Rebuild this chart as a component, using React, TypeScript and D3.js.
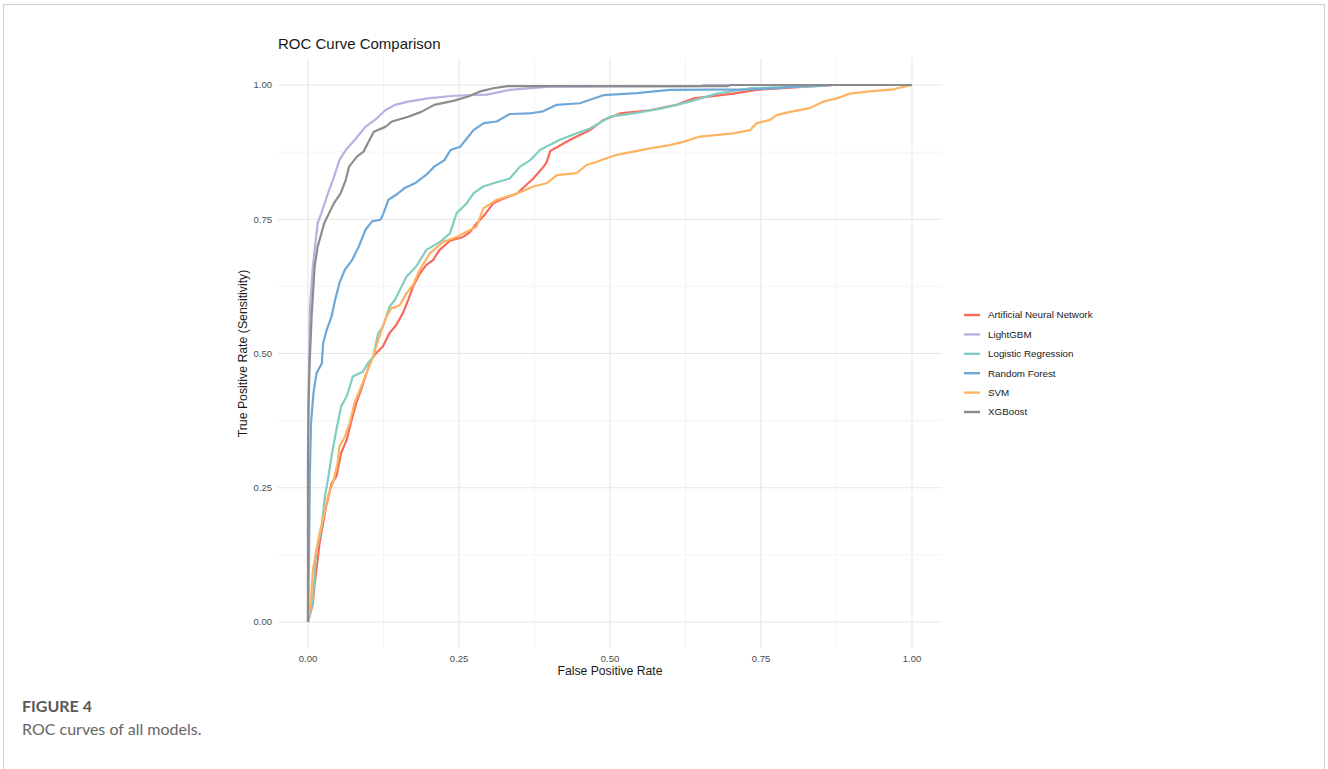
import React from 'react';
import * as d3 from 'd3';

// ROC points: [false positive rate, true positive rate]
const ann: [number, number][] = [
  [0, 0], [0.008, 0.034], [0.011, 0.072], [0.014, 0.097], [0.019, 0.146], [0.025, 0.184], [0.03, 0.215],
  [0.039, 0.258], [0.047, 0.271], [0.055, 0.315], [0.064, 0.339], [0.071, 0.371], [0.08, 0.408], [0.088, 0.433],
  [0.097, 0.464], [0.105, 0.489], [0.113, 0.501], [0.124, 0.513], [0.135, 0.538], [0.146, 0.553], [0.157, 0.575],
  [0.166, 0.6], [0.174, 0.625], [0.185, 0.649], [0.196, 0.665], [0.207, 0.674], [0.218, 0.693], [0.235, 0.71],
  [0.257, 0.717], [0.268, 0.726], [0.279, 0.742], [0.29, 0.755], [0.307, 0.78], [0.318, 0.786], [0.346, 0.798],
  [0.373, 0.826], [0.39, 0.848], [0.395, 0.856], [0.401, 0.877], [0.434, 0.898], [0.467, 0.916], [0.489, 0.935],
  [0.517, 0.947], [0.566, 0.953], [0.61, 0.963], [0.638, 0.975], [0.704, 0.984], [0.743, 0.991], [0.8, 0.995],
  [0.87, 1], [1, 1],
];

const lightgbm: [number, number][] = [
  [0, 0], [0, 0.35], [0.002, 0.5], [0.003, 0.581], [0.008, 0.662], [0.016, 0.743], [0.022, 0.761], [0.033, 0.798],
  [0.043, 0.829], [0.052, 0.86], [0.0625, 0.879], [0.079, 0.9], [0.095, 0.922], [0.114, 0.938], [0.128, 0.953],
  [0.144, 0.963], [0.166, 0.969], [0.198, 0.975], [0.242, 0.98], [0.296, 0.982], [0.334, 0.991], [0.4, 0.997],
  [0.65, 0.998], [0.655, 1], [1, 1],
];

const logistic: [number, number][] = [
  [0, 0], [0.008, 0.04], [0.014, 0.134], [0.022, 0.172], [0.028, 0.234], [0.033, 0.265], [0.039, 0.309],
  [0.047, 0.358], [0.055, 0.402], [0.064, 0.42], [0.071, 0.445], [0.074, 0.457], [0.091, 0.466], [0.099, 0.482],
  [0.108, 0.494], [0.116, 0.537], [0.124, 0.55], [0.135, 0.587], [0.144, 0.6], [0.155, 0.625], [0.163, 0.643],
  [0.179, 0.662], [0.196, 0.693], [0.219, 0.708], [0.235, 0.724], [0.246, 0.761], [0.263, 0.78], [0.274, 0.798],
  [0.29, 0.811], [0.307, 0.817], [0.334, 0.826], [0.351, 0.848], [0.368, 0.86], [0.384, 0.879], [0.417, 0.898],
  [0.445, 0.91], [0.467, 0.919], [0.5, 0.941], [0.539, 0.947], [0.588, 0.957], [0.632, 0.969], [0.677, 0.984],
  [0.732, 0.994], [0.842, 0.998], [0.87, 1], [1, 1],
];

const randomForest: [number, number][] = [
  [0, 0], [0.002, 0.15], [0.003, 0.271], [0.005, 0.37], [0.009, 0.426], [0.014, 0.463], [0.023, 0.482],
  [0.025, 0.519], [0.031, 0.544], [0.039, 0.569], [0.045, 0.6], [0.052, 0.631], [0.061, 0.656], [0.073, 0.674],
  [0.084, 0.699], [0.095, 0.73], [0.106, 0.746], [0.12, 0.749], [0.125, 0.761], [0.133, 0.786], [0.149, 0.798],
  [0.16, 0.808], [0.177, 0.817], [0.196, 0.833], [0.209, 0.848], [0.226, 0.86], [0.236, 0.879], [0.252, 0.885],
  [0.274, 0.916], [0.291, 0.929], [0.3125, 0.932], [0.334, 0.946], [0.367, 0.947], [0.389, 0.951], [0.412, 0.963],
  [0.45, 0.966], [0.489, 0.981], [0.544, 0.985], [0.599, 0.991], [0.732, 0.992], [0.776, 0.994], [0.815, 0.998],
  [0.87, 1], [1, 1],
];

const svm: [number, number][] = [
  [0, 0], [0.005, 0.04], [0.008, 0.097], [0.014, 0.134], [0.019, 0.165], [0.027, 0.202], [0.033, 0.234],
  [0.041, 0.258], [0.049, 0.296], [0.052, 0.327], [0.061, 0.345], [0.069, 0.371], [0.077, 0.408], [0.086, 0.433],
  [0.097, 0.464], [0.108, 0.494], [0.113, 0.513], [0.119, 0.534], [0.13, 0.569], [0.138, 0.584], [0.152, 0.59],
  [0.163, 0.612], [0.174, 0.628], [0.185, 0.656], [0.202, 0.687], [0.224, 0.708], [0.246, 0.717], [0.268, 0.73],
  [0.279, 0.736], [0.29, 0.77], [0.312, 0.786], [0.346, 0.798], [0.373, 0.811], [0.395, 0.817], [0.412, 0.832],
  [0.445, 0.836], [0.461, 0.851], [0.478, 0.857], [0.511, 0.87], [0.539, 0.876], [0.566, 0.882], [0.599, 0.888],
  [0.621, 0.894], [0.649, 0.904], [0.704, 0.91], [0.732, 0.916], [0.743, 0.929], [0.765, 0.935], [0.776, 0.944],
  [0.798, 0.95], [0.831, 0.957], [0.853, 0.969], [0.875, 0.975], [0.897, 0.984], [0.93, 0.988], [0.969, 0.992],
  [1, 1],
];

const xgboost: [number, number][] = [
  [0, 0], [0, 0.3], [0.001, 0.41], [0.003, 0.49], [0.006, 0.57], [0.011, 0.662], [0.016, 0.699], [0.027, 0.743],
  [0.043, 0.78], [0.054, 0.798], [0.0625, 0.823], [0.068, 0.848], [0.0815, 0.867], [0.092, 0.876], [0.1005, 0.895],
  [0.109, 0.913], [0.128, 0.922], [0.139, 0.932], [0.166, 0.941], [0.1875, 0.95], [0.209, 0.963], [0.242, 0.971],
  [0.264, 0.978], [0.285, 0.988], [0.307, 0.994], [0.33, 0.998], [0.695, 0.998], [0.7, 1], [1, 1],
];

const models = ['Artificial Neural Network', 'LightGBM', 'Logistic Regression', 'Random Forest', 'SVM', 'XGBoost'];
const curves = [ann, lightgbm, logistic, randomForest, svm, xgboost];
const colors = ['#F8695C', '#B8B0E0', '#80CDC1', '#6FA8D6', '#FDB462', '#8C8C8C'];

const majorTicks = [0, 0.25, 0.5, 0.75, 1];
const minorTicks = [0.125, 0.375, 0.625, 0.875];
const tickLabels = ['0.00', '0.25', '0.50', '0.75', '1.00'];

const font = '"Liberation Sans", Arial, sans-serif';

export default function App() {
  const x = d3.scaleLinear().domain([0, 1]).range([308, 912]);
  const y = d3.scaleLinear().domain([0, 1]).range([622, 85]);
  const [px0, px1] = [x(-0.05), x(1.05)];
  const [py0, py1] = [y(1.05), y(-0.05)];

  const line = d3
    .line<[number, number]>()
    .x(d => x(d[0]))
    .y(d => y(d[1]));

  return (
    <svg
      width={1328}
      height={769}
      style={{ position: 'absolute', left: 0, top: 0, background: '#fff' }}
    >
      <rect x={3.5} y={4.5} width={1321} height={800} fill="#fff" stroke="#cfcfcf" />

      {/* grid */}
      {minorTicks.map(t => (
        <g key={'m' + t}>
          <line x1={x(t)} x2={x(t)} y1={py0} y2={py1} stroke="#f1f1f1" strokeWidth={0.8} />
          <line x1={px0} x2={px1} y1={y(t)} y2={y(t)} stroke="#f1f1f1" strokeWidth={0.8} />
        </g>
      ))}
      {majorTicks.map(t => (
        <g key={'M' + t}>
          <line x1={x(t)} x2={x(t)} y1={py0} y2={py1} stroke="#e6e6e6" strokeWidth={1.1} />
          <line x1={px0} x2={px1} y1={y(t)} y2={y(t)} stroke="#e6e6e6" strokeWidth={1.1} />
        </g>
      ))}

      {/* curves */}
      {curves.map((c, i) => (
        <path
          key={models[i]}
          d={line(c) ?? ''}
          fill="none"
          stroke={colors[i]}
          strokeWidth={2.2}
          strokeLinejoin="round"
        />
      ))}

      {/* tick labels */}
      {majorTicks.map((t, i) => (
        <g key={'t' + t} fontFamily={font} fontSize={9.5} fill="#4d4d4d">
          <text x={272} y={y(t)} dy="0.35em" textAnchor="end">
            {tickLabels[i]}
          </text>
          <text x={x(t)} y={662} textAnchor="middle">
            {tickLabels[i]}
          </text>
        </g>
      ))}

      {/* titles */}
      <text x={278} y={49} fontFamily={font} fontSize={15} fill="#1a1a1a">
        ROC Curve Comparison
      </text>
      <text x={x(0.5)} y={675} textAnchor="middle" fontFamily={font} fontSize={12.2} fill="#1a1a1a">
        False Positive Rate
      </text>
      <text
        transform={`translate(247,${y(0.5)}) rotate(-90)`}
        textAnchor="middle"
        fontFamily={font}
        fontSize={12.3}
        fill="#1a1a1a"
      >
        True Positive Rate (Sensitivity)
      </text>

      {/* legend */}
      {models.map((m, i) => (
        <g key={'l' + m} transform={`translate(0,${315 + i * 19.4})`}>
          <line x1={964} x2={980} y1={0} y2={0} stroke={colors[i]} strokeWidth={2.4} />
          <text x={988} y={0} dy="0.35em" fontFamily={font} fontSize={9.8} fill="#1a1a1a">
            {m}
          </text>
        </g>
      ))}

      {/* caption */}
      <text x={22} y={712} fontFamily="Lato, 'Open Sans', sans-serif" fontSize={16} fontWeight={700} fill="#5a5a5a">
        FIGURE 4
      </text>
      <text x={22} y={735} fontFamily="Lato, 'Open Sans', sans-serif" fontSize={16} fill="#666">
        ROC curves of all models.
      </text>
    </svg>
  );
}
